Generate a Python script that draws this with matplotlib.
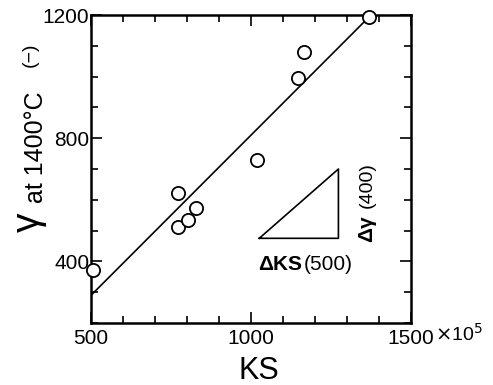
import matplotlib
matplotlib.use("Agg")
import matplotlib.pyplot as plt
from matplotlib.ticker import MultipleLocator

plt.rcParams["font.family"] = ["Liberation Sans", "DejaVu Sans"]

# measured points (KS x1e5, gamma at 1400C)
ks = [507, 772, 771, 804, 829, 1019, 1148, 1166, 1367]
gamma = [372, 622, 513, 534, 573, 729, 995, 1079, 1192]

# regression line end points
fit_ks = [500, 1367]
fit_gamma = [289, 1192]

# slope triangle
tri_ks = [1026, 1273, 1273, 1026]
tri_gamma = [475, 475, 700, 475]

fig = plt.figure(figsize=(4.93, 3.85), dpi=100)
ax = fig.add_axes([0.184, 0.161, 0.650, 0.800])

ax.plot(fit_ks, fit_gamma, color="black", linewidth=1.2)
ax.plot(ks, gamma, "o", markersize=9.5, markerfacecolor="white",
        markeredgecolor="black", markeredgewidth=1.3, clip_on=False, zorder=3)
ax.plot(tri_ks, tri_gamma, color="black", linewidth=1.2)

ax.set_xlim(500, 1500)
ax.set_ylim(200, 1200)
ax.xaxis.set_major_locator(MultipleLocator(500))
ax.xaxis.set_minor_locator(MultipleLocator(100))
ax.set_yticks([400, 800, 1200])
ax.yaxis.set_minor_locator(MultipleLocator(100))
ax.tick_params(which="both", direction="in", top=True, right=True,
               width=1.2, labelsize=15)
ax.tick_params(axis="x", pad=4)
ax.tick_params(axis="y", pad=1)
ax.tick_params(which="major", length=8)
ax.tick_params(which="minor", length=5)
for s in ax.spines.values():
    s.set_linewidth(1.8)

# x axis label and multiplier
fig.text(259 / 493, 1 - 371 / 385, "KS", fontsize=22, ha="center", va="center")
fig.text(435 / 493, 1 - 334 / 385, r"$\times$10$^5$", fontsize=14,
         ha="left", va="center")

# y axis label pieces
fig.text(29 / 493, 1 - 222 / 385, "γ", fontsize=28, rotation=90,
         ha="center", va="center")
fig.text(36 / 493, 1 - 147 / 385, "at 1400°C", fontsize=18, rotation=90,
         ha="center", va="center")
fig.text(30 / 493, 1 - 55 / 385, "(−)", fontsize=14, rotation=90,
         ha="center", va="center")

# triangle annotations
fig.text(258 / 493, 1 - 265 / 385, "ΔKS", fontsize=15, fontweight="bold",
         ha="left", va="center")
fig.text(304 / 493, 1 - 265 / 385, "(500)", fontsize=15,
         ha="left", va="center")
fig.text(367 / 493, 1 - 229 / 385, "Δγ", fontsize=15, fontweight="bold",
         rotation=90, ha="center", va="center")
fig.text(367 / 493, 1 - 185 / 385, "(400)", fontsize=14, rotation=90,
         ha="center", va="center")

fig.savefig("out.png", dpi=100)
